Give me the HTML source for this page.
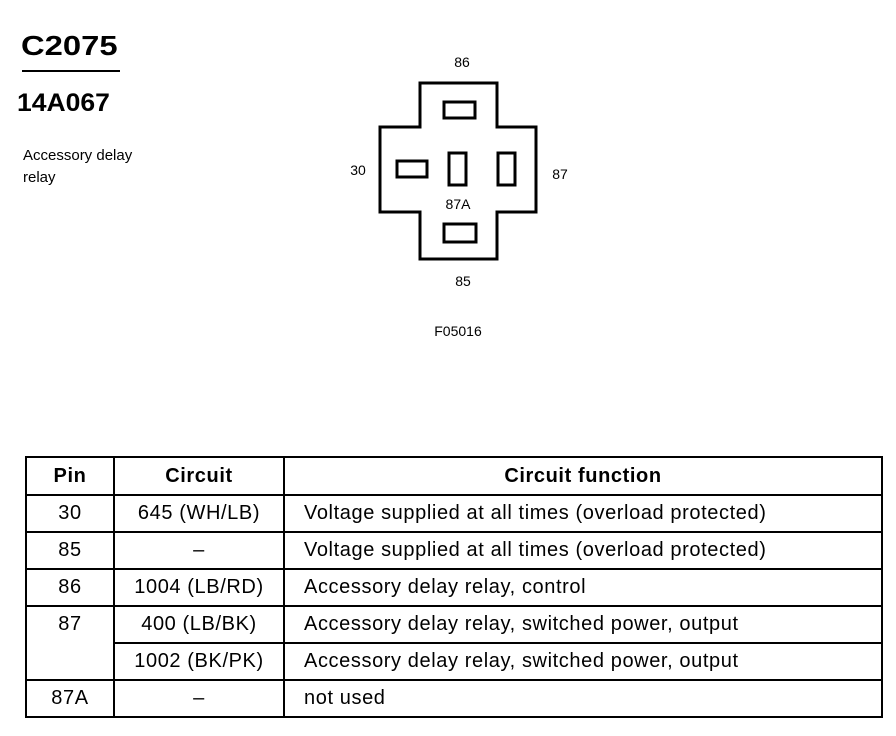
<!DOCTYPE html>
<html><head><style>
body{margin:0;width:896px;height:736px;background:#fff;position:relative;font-family:"Liberation Sans",Arial,sans-serif;color:#000;overflow:hidden}
.a{position:absolute;white-space:nowrap}
table{position:absolute;left:25px;top:456px;border-collapse:collapse;font-size:20px;letter-spacing:0.6px;table-layout:fixed;width:856px}
td{border:2px solid #000;height:35px;padding:0;text-align:center}
td.f{text-align:left;padding-left:19px}
th{border:2px solid #000;height:34px;font-size:20px}
</style></head><body>
<div class="a" style="left:21px;top:30px;font-size:28px;font-weight:bold;transform:scaleX(1.17);transform-origin:left">C2075</div>
<div class="a" style="left:22px;top:70px;width:98px;height:2px;background:#000"></div>
<div class="a" style="left:17px;top:89px;font-size:25px;font-weight:bold;transform:scaleX(1.06);transform-origin:left">14A067</div>
<div class="a" style="left:23px;top:145px;font-size:15px;line-height:22px">Accessory delay<br>relay</div>

<svg class="a" style="left:0;top:0" width="896" height="440">
<path d="M420 83 H497 V127 H536 V212 H497 V259 H420 V212 H380 V127 H420 Z" fill="none" stroke="#000" stroke-width="3"/>
<g fill="none" stroke="#000" stroke-width="3">
<rect x="444" y="102" width="31" height="16"/>
<rect x="397" y="161" width="30" height="16"/>
<rect x="449" y="153" width="17" height="32"/>
<rect x="498" y="153" width="17" height="32"/>
<rect x="444" y="224" width="32" height="18"/>
</g>
<g font-family="Liberation Sans,Arial,sans-serif" font-size="14" text-anchor="middle">
<text x="462" y="67">86</text>
<text x="358" y="175">30</text>
<text x="560" y="179">87</text>
<text x="458" y="209">87A</text>
<text x="463" y="286">85</text>
<text x="458" y="336">F05016</text>
</g>
</svg>

<table>
<colgroup><col style="width:88px"><col style="width:170px"><col style="width:598px"></colgroup>
<tr><th>Pin</th><th>Circuit</th><th>Circuit function</th></tr>
<tr><td>30</td><td>645 (WH/LB)</td><td class="f">Voltage supplied at all times (overload protected)</td></tr>
<tr><td>85</td><td>–</td><td class="f">Voltage supplied at all times (overload protected)</td></tr>
<tr><td>86</td><td>1004 (LB/RD)</td><td class="f">Accessory delay relay, control</td></tr>
<tr><td rowspan="2" style="vertical-align:top;padding-top:6px">87</td><td>400 (LB/BK)</td><td class="f">Accessory delay relay, switched power, output</td></tr>
<tr><td>1002 (BK/PK)</td><td class="f">Accessory delay relay, switched power, output</td></tr>
<tr><td>87A</td><td>–</td><td class="f">not used</td></tr>
</table>
</body></html>
